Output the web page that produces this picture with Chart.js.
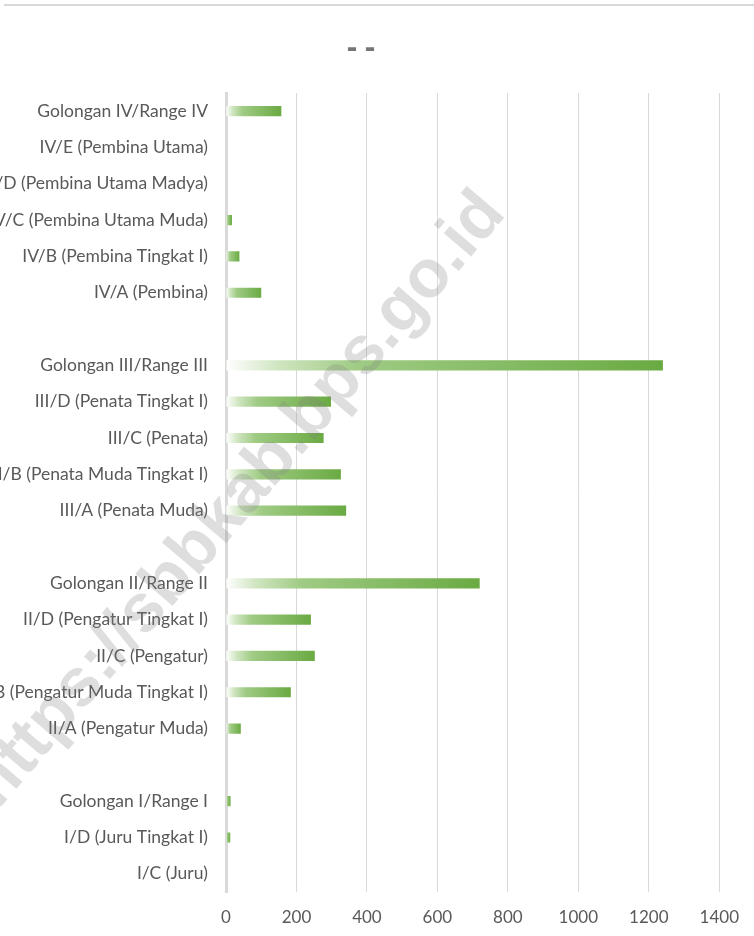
<!DOCTYPE html>
<html>
<head>
<meta charset="utf-8">
<script src="https://cdn.jsdelivr.net/npm/chart.js@4.4.0/dist/chart.umd.min.js"></script>
<style>
  html, body { margin: 0; padding: 0; background: #ffffff; }
  #wrap { position: relative; width: 754px; height: 936px; }
</style>
</head>
<body>
<div id="wrap"><canvas id="c" width="754" height="936"></canvas></div>
<script>
const categories = [
  'Golongan IV/Range IV',
  'IV/E (Pembina Utama)',
  'IV/D (Pembina Utama Madya)',
  'IV/C (Pembina Utama Muda)',
  'IV/B (Pembina Tingkat I)',
  'IV/A (Pembina)',
  '',
  'Golongan III/Range III',
  'III/D (Penata Tingkat I)',
  'III/C (Penata)',
  'III/B (Penata Muda Tingkat I)',
  'III/A (Penata Muda)',
  '',
  'Golongan II/Range II',
  'II/D (Pengatur Tingkat I)',
  'II/C (Pengatur)',
  'II/B (Pengatur Muda Tingkat I)',
  'II/A (Pengatur Muda)',
  '',
  'Golongan I/Range I',
  'I/D (Juru Tingkat I)',
  'I/C (Juru)'
];
const jumlahPegawai = [157, 0, 0, 17, 38, 100, null, 1240, 298, 277, 326, 341, null, 720, 241, 252, 184, 42, null, 13, 12, 0];
const xTicks = [0, 200, 400, 600, 800, 1000, 1200, 1400];
const chartTitle = '- -';
const watermark = 'https://sbbkab.bps.go.id';

const LABEL_FONT = 'Lato, "Open Sans", sans-serif';

const decor = {
  id: 'decor',
  beforeDraw(chart) {
    const c = chart.ctx;
    c.save();
    c.fillStyle = '#ffffff';
    c.fillRect(0, 0, chart.width, chart.height);
    c.strokeStyle = '#d9d9d9';
    c.lineWidth = 2;
    c.beginPath();
    c.moveTo(4, 5);
    c.lineTo(chart.width, 5);
    c.stroke();
    c.fillStyle = '#767676';
    c.font = 'bold 31px "Open Sans", sans-serif';
    c.textAlign = 'center';
    c.textBaseline = 'middle';
    c.fillText(chartTitle, 361, 48);
    c.restore();
  },
  afterDraw(chart) {
    const c = chart.ctx;
    c.save();
    const fam = '"Liberation Sans", Arial, sans-serif';
    c.font = 'bold 100px ' + fam;
    const w = s => c.measureText(s).width;
    // distance (at 100px) between centre of "h" and centre of "o" in "go"
    const dH = w('h') / 2;
    const dO = w('https://sbbkab.bps.g') + w('o') / 2;
    const size = 100 * 663 / (dO - dH);
    const ang = -49.5 * Math.PI / 180;
    const anchorX = 428, anchorY = 278; // centre of "o" in the reference
    c.font = 'bold ' + size.toFixed(1) + 'px ' + fam;
    const off = w('https://sbbkab.bps.g') + w('o') / 2;
    const sx = anchorX - off * Math.cos(ang);
    const sy = anchorY - off * Math.sin(ang);
    c.translate(sx, sy);
    c.rotate(ang);
    c.fillStyle = 'rgba(128,128,128,0.26)';
    c.textAlign = 'left';
    c.textBaseline = 'middle';
    c.fillText(watermark, 0, 0);
    c.restore();
  }
};

function barGradient(ctx) {
  const chart = ctx.chart;
  if (ctx.type !== 'data' || !chart.chartArea || !chart.scales.x) return '#70ad47';
  const v = ctx.raw;
  if (v == null) return '#70ad47';
  const xs = chart.scales.x;
  const x0 = xs.getPixelForValue(0);
  const x1 = xs.getPixelForValue(v);
  if (!isFinite(x0) || !isFinite(x1) || x1 - x0 < 2) return '#70ad47';
  const g = chart.ctx.createLinearGradient(x0, 0, x1, 0);
  g.addColorStop(0, '#ffffff');
  g.addColorStop(0.12, '#cfe5c0');
  g.addColorStop(0.3, '#9fcb84');
  g.addColorStop(1, '#6aaa42');
  return g;
}

new Chart(document.getElementById('c'), {
  type: 'bar',
  data: {
    labels: categories,
    datasets: [{
      data: jumlahPegawai,
      backgroundColor: barGradient,
      borderWidth: 0,
      barPercentage: 0.28,
      categoryPercentage: 1.0
    }]
  },
  options: {
    indexAxis: 'y',
    responsive: false,
    animation: false,
    events: [],
    layout: { padding: { top: 93, right: 33, left: 0, bottom: 0 } },
    plugins: {
      legend: { display: false },
      title: { display: false },
      tooltip: { enabled: false }
    },
    scales: {
      x: {
        min: 0,
        max: 1400,
        afterBuildTicks(scale) { scale.ticks = xTicks.map(v => ({ value: v })); },
        afterFit(scale) { scale.height = 44; },
        grid: { color: '#d9d9d9', lineWidth: 1, drawTicks: false },
        border: { display: false },
        ticks: {
          color: '#595959',
          font: { family: LABEL_FONT, size: 17 },
          padding: 15,
          callback: v => String(v)
        }
      },
      y: {
        afterFit(scale) { scale.width = 226; },
        grid: { display: false, drawTicks: false },
        border: { display: true, color: '#d9d9d9', width: 3 },
        ticks: {
          color: '#595959',
          font: { family: LABEL_FONT, size: 17.5 },
          padding: 18,
          autoSkip: false
        }
      }
    }
  },
  plugins: [decor]
});
</script>
</body>
</html>
